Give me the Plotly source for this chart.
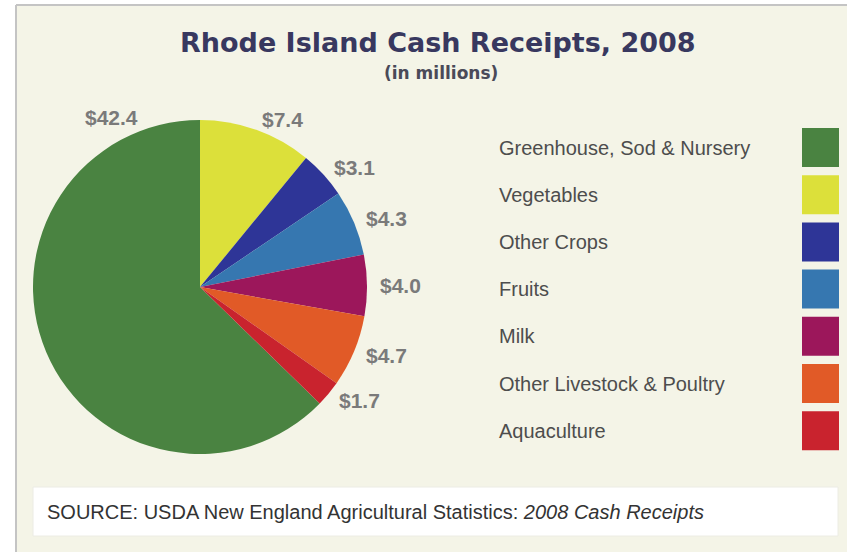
import plotly.graph_objects as go
import math

# ---- data ----
categories = ["Greenhouse, Sod & Nursery", "Vegetables", "Other Crops", "Fruits",
              "Milk", "Other Livestock & Poultry", "Aquaculture"]
values = [42.4, 7.4, 3.1, 4.3, 4.0, 4.7, 1.7]
colors = ["#4a8341", "#dce03a", "#2e3597", "#3677b0", "#9c175b", "#e15a27", "#c9232e"]
title_text = "Rhode Island Cash Receipts, 2008"
subtitle_text = "(in millions)"
source_text = "SOURCE: USDA New England Agricultural Statistics: <i>2008 Cash Receipts</i>"

W, H = 847, 552
def px(x):
    return x / W
def py(y):
    return 1 - y / H

# pie geometry (pixels)
cx, cy, R = 200, 287, 167
total = sum(values)
# Greenhouse slice ends at 12 o'clock, the rest follow clockwise from 12
rotation = 360 - values[0] / total * 360

fig = go.Figure()
fig.add_trace(go.Pie(
    labels=categories, values=values, sort=False, direction="clockwise",
    rotation=rotation, marker=dict(colors=colors, line=dict(width=0)),
    textinfo="none", hoverinfo="label+value", showlegend=False,
    domain=dict(x=[px(cx - R), px(cx + R)], y=[py(cy + R), py(cy - R)]),
))

shapes = []
annotations = []
# cream panel and border
shapes.append(dict(type="rect", xref="paper", yref="paper", x0=px(16), x1=px(W + 5),
                   y0=py(H + 5), y1=py(5), fillcolor="#f4f4e7", line=dict(width=0), layer="below"))
shapes.append(dict(type="line", xref="paper", yref="paper", x0=px(16), x1=px(16),
                   y0=py(H + 5), y1=py(5), line=dict(color="#c4c4c4", width=2), layer="below"))
shapes.append(dict(type="line", xref="paper", yref="paper", x0=px(16), x1=px(W + 5),
                   y0=py(5), y1=py(5), line=dict(color="#c4c4c4", width=2), layer="below"))
# source box
shapes.append(dict(type="rect", xref="paper", yref="paper", x0=px(33), x1=px(838),
                   y0=py(536), y1=py(487), fillcolor="#ffffff", line=dict(color="#ecece4", width=1), layer="below"))

# title
annotations.append(dict(text="<b>" + title_text + "</b>", x=px(438), y=py(42), xref="paper", yref="paper",
                        showarrow=False, xanchor="center", yanchor="middle",
                        font=dict(family="DejaVu Sans", size=27, color="#38385f")))
annotations.append(dict(text="<b>" + subtitle_text + "</b>", x=px(441), y=py(73), xref="paper", yref="paper",
                        showarrow=False, xanchor="center", yanchor="middle",
                        font=dict(family="DejaVu Sans", size=17, color="#4a4a58")))

# value labels around the pie
label_r = 178
start = rotation
for i, (cat, v) in enumerate(zip(categories, values)):
    span = v / total * 360
    mid = start + span / 2
    start += span
    if i == 0:
        ang = -19.4  # greenhouse label sits above the pie, left of 12 o'clock
        anchor = "right"
        r = 180
    else:
        ang = mid % 360
        anchor = "left"
        r = label_r
    lx = cx + r * math.sin(math.radians(ang))
    ly = cy - r * math.cos(math.radians(ang))
    annotations.append(dict(text="<b>$%.1f</b>" % v, x=px(lx), y=py(ly), xref="paper", yref="paper",
                            showarrow=False, xanchor=anchor, yanchor="middle",
                            font=dict(family="Liberation Sans", size=21, color="#7a7a7a")))

# custom legend: text on left, swatch on right
leg_y0, leg_step = 147.5, 47.2
for i, (cat, col) in enumerate(zip(categories, colors)):
    yy = leg_y0 + i * leg_step
    annotations.append(dict(text=cat, x=px(497), y=py(yy), xref="paper", yref="paper",
                            showarrow=False, xanchor="left", yanchor="middle",
                            font=dict(family="Liberation Sans", size=20, color="#4d4d4d")))
    shapes.append(dict(type="rect", xref="paper", yref="paper", x0=px(802), x1=px(839),
                       y0=py(yy + 19.5), y1=py(yy - 19.5), fillcolor=col, line=dict(width=0)))

annotations.append(dict(text=source_text, x=px(45), y=py(512), xref="paper", yref="paper",
                        showarrow=False, xanchor="left", yanchor="middle",
                        font=dict(family="Liberation Sans", size=20, color="#333333")))

fig.update_layout(width=W, height=H, margin=dict(l=0, r=0, t=0, b=0),
                  paper_bgcolor="#ffffff", plot_bgcolor="#ffffff",
                  shapes=shapes, annotations=annotations)

fig.write_html("out.html", config={"displayModeBar": False},
               post_script="document.body.style.margin='0';document.body.style.overflow='hidden';")
